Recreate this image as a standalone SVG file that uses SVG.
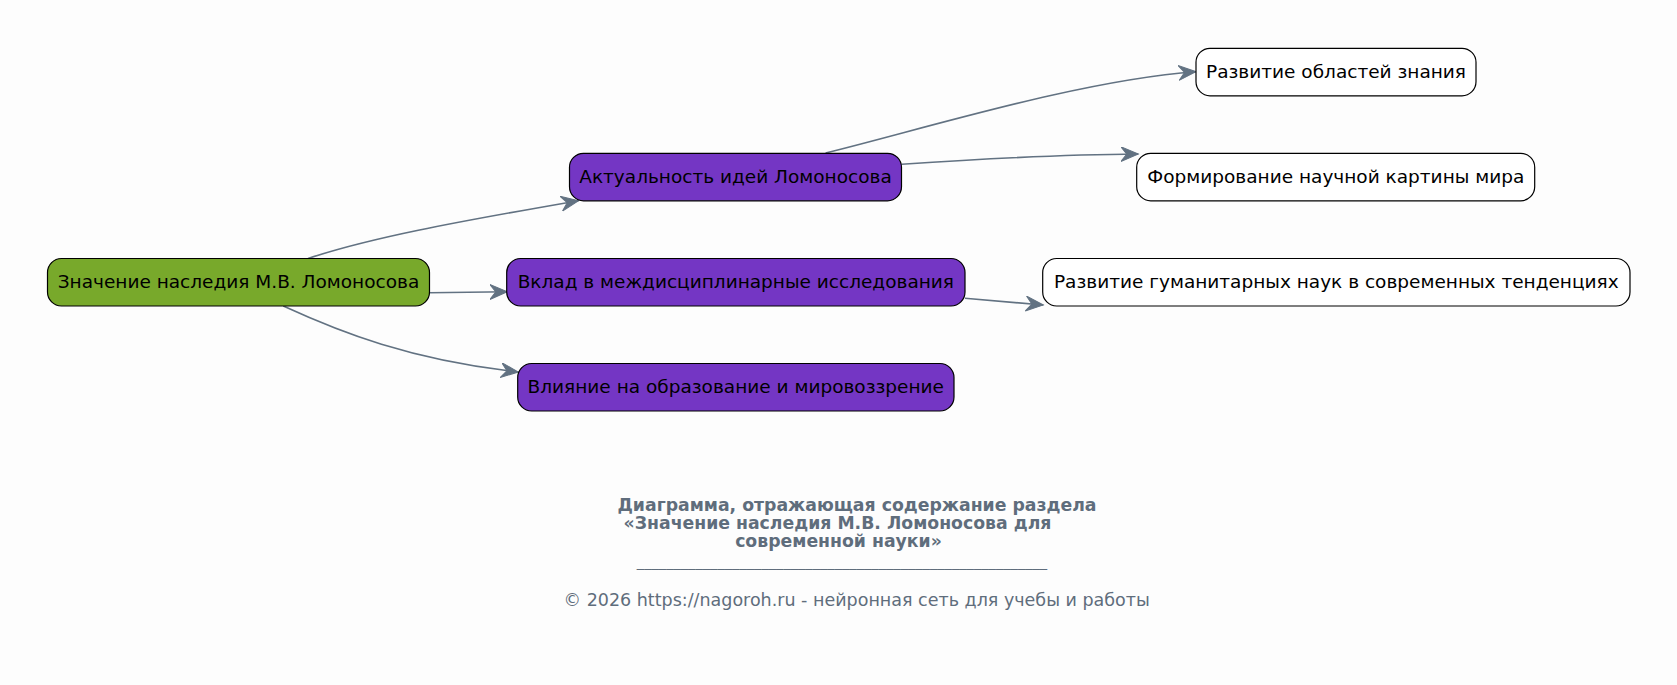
<svg xmlns="http://www.w3.org/2000/svg" width="1677" height="685" viewBox="0 0 1677 685">
<defs>
<style>
.node rect{stroke:#000;stroke-width:1.2}
.root rect{fill:#78a92b}
.mid rect{fill:#7436c4}
.leaf rect{fill:#fff}
.node text{font-family:"DejaVu Sans",sans-serif;font-size:18.5px;fill:#000;text-anchor:middle}
.edge{fill:none;stroke:#627282;stroke-width:1.6}
.t{font-family:"DejaVu Sans",sans-serif;fill:#5f6d7c;text-anchor:middle}
.tb{font-weight:bold;font-size:17.3px}
</style>
<marker id="vee" markerUnits="userSpaceOnUse" markerWidth="20" markerHeight="16" refX="17.5" refY="7.5" orient="auto" viewBox="0 0 20 16">
<path d="M0,0 L17.5,7.5 L0,15 L6,7.5 Z" fill="#627282" stroke="#627282" stroke-width="1"/>
</marker>
</defs>
<rect width="1677" height="685" fill="#fdfdfd"/>
<g id="connectors">
<path class="edge" marker-end="url(#vee)" d="M308,258.5 C370,238 450,223 578.5,200.7"/>
<path class="edge" marker-end="url(#vee)" d="M429.3,292.7 L507.3,291.7"/>
<path class="edge" marker-end="url(#vee)" d="M283.3,306 C340,332 410,360 518.3,372"/>
<path class="edge" marker-end="url(#vee)" d="M825.6,153 C920,130 1080,80 1196,71.7"/>
<path class="edge" marker-end="url(#vee)" d="M901.7,164.3 C980,159 1060,154.5 1138.3,154"/>
<path class="edge" marker-end="url(#vee)" d="M965,298.3 L1043.3,305"/>
</g>
<g id="n_root" class="node root"><rect x="47.5" y="258.5" width="382" height="47.5" rx="14"/><text x="238.5" y="288">Значение наследия М.В. Ломоносова</text></g>
<g id="n_akt" class="node mid"><rect x="569.5" y="153.3" width="332" height="47.5" rx="14"/><text x="735.5" y="182.8">Актуальность идей Ломоносова</text></g>
<g id="n_vklad" class="node mid"><rect x="506.7" y="258.5" width="458.3" height="47.5" rx="14"/><text x="735.8" y="288">Вклад в междисциплинарные исследования</text></g>
<g id="n_vliy" class="node mid"><rect x="517.7" y="363.5" width="436.3" height="47.5" rx="14"/><text x="735.8" y="393">Влияние на образование и мировоззрение</text></g>
<g id="n_razv1" class="node leaf"><rect x="1196" y="48.3" width="280" height="47.5" rx="14"/><text x="1336" y="77.8">Развитие областей знания</text></g>
<g id="n_form" class="node leaf"><rect x="1136.7" y="153.3" width="398" height="47.5" rx="14"/><text x="1335.8" y="182.8">Формирование научной картины мира</text></g>
<g id="n_razv2" class="node leaf"><rect x="1042.7" y="258.5" width="587.3" height="47.5" rx="14"/><text x="1336.3" y="288">Развитие гуманитарных наук в современных тенденциях</text></g>
<g id="caption">
<text class="t tb" x="857" y="511">Диаграмма, отражающая содержание раздела</text>
<text class="t tb" x="837.5" y="529">«Значение наследия М.В. Ломоносова для</text>
<text class="t tb" x="838.5" y="546.5">современной науки»</text>
<text class="t" x="842" y="567" font-size="14.67px">________________________________________________________</text>
<text class="t" x="856.7" y="606" font-size="17.5px">© 2026 https://nagoroh.ru - нейронная сеть для учебы и работы</text>
</g>
</svg>
